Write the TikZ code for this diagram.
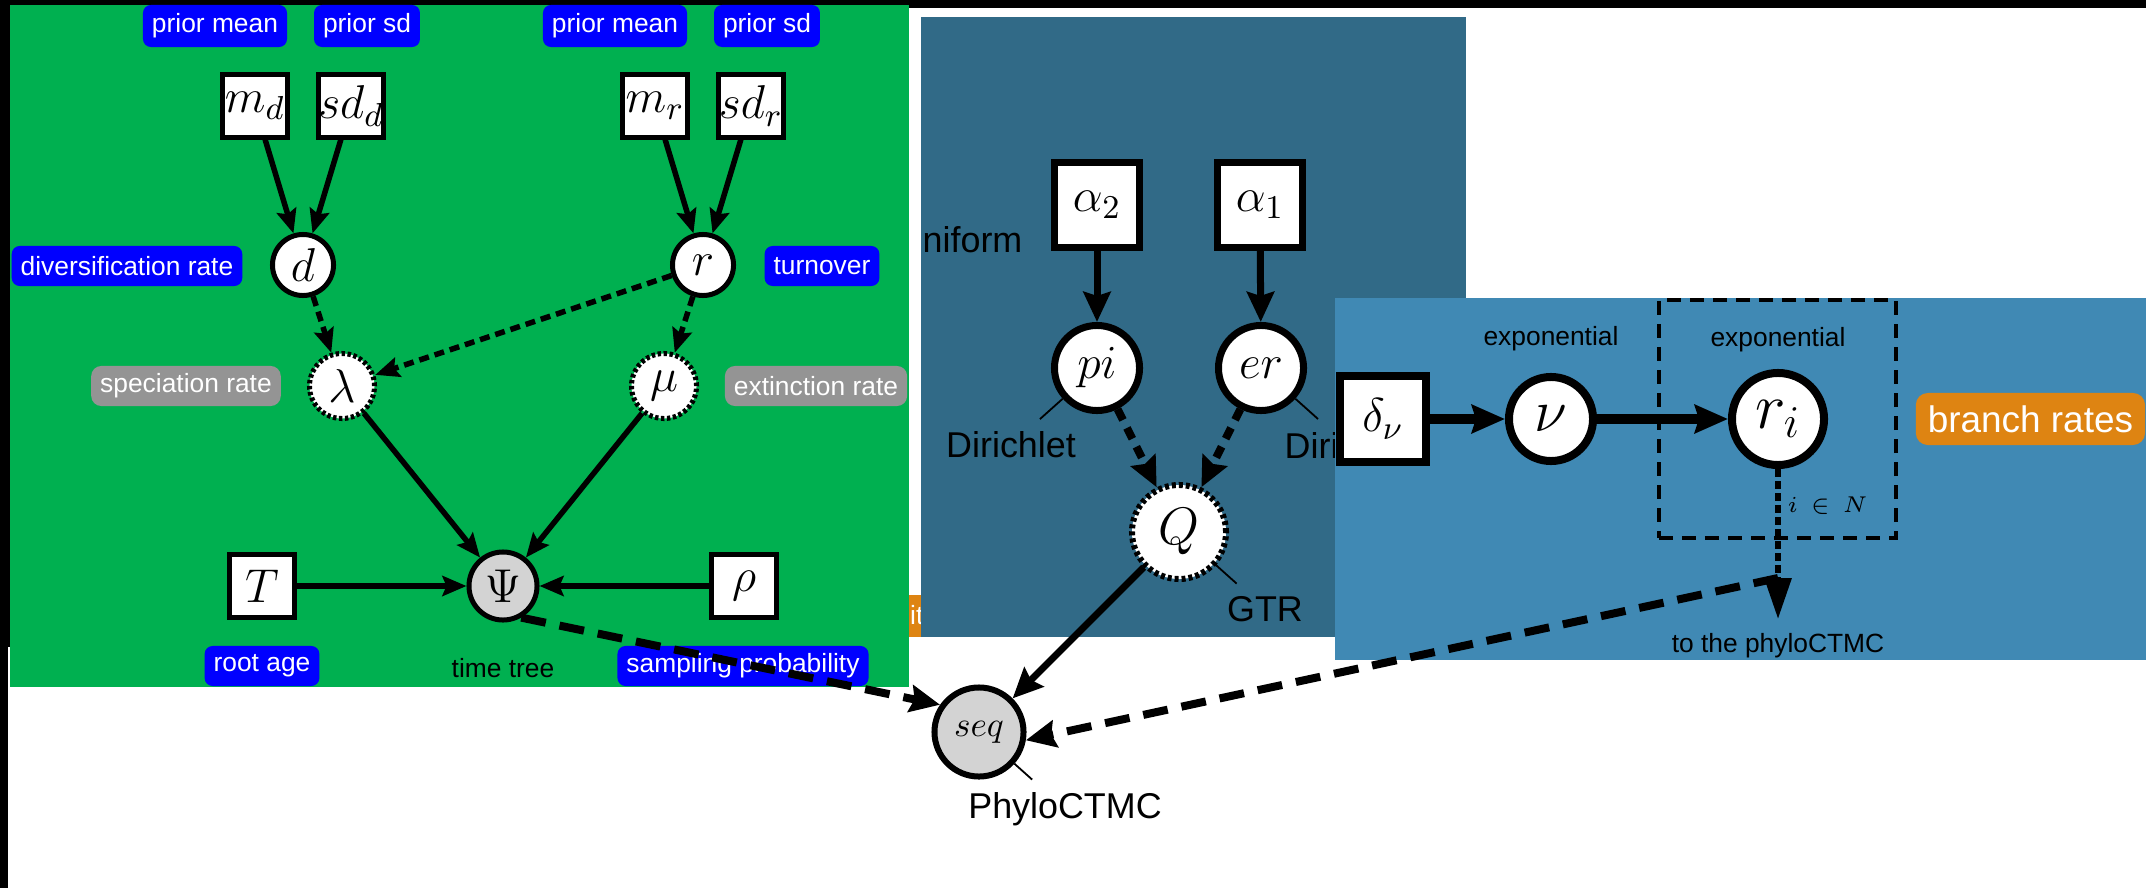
\RequirePackage{fix-cm}
\documentclass[tikz,border=0pt]{standalone}
\usepackage[no-math]{fontspec}
\setmainfont{Liberation Sans}
\usepackage{amsmath, amssymb}
\usetikzlibrary{arrows.meta, positioning, calc}

\definecolor{greenbg}{RGB}{0,176,80}
\definecolor{tealbg}{RGB}{49,106,135}
\definecolor{bluebg}{RGB}{64,137,180}
\definecolor{ratefill}{RGB}{222,132,18}
\definecolor{greyfill}{RGB}{148,148,148}
\definecolor{clampfill}{RGB}{211,211,211}

\begin{document}
\begin{tikzpicture}[
    x=0.01cm, y=-0.01cm,
    smalltxt/.style={font=\fontsize{7.5}{9}\selectfont},
    bigtxt/.style={font=\fontsize{10.2}{12}\selectfont},
    pinlabel/.style={bigtxt, inner sep=0.12cm},
    pinline/.style={line width=0.018cm},
    % green model
    gconst/.style={rectangle, draw, fill=white, line width=0.05cm, minimum width=0.65cm, minimum height=0.62cm, inner sep=0pt, font=\fontsize{13.5}{16}\selectfont},
    gstoch/.style={circle, draw, fill=white, line width=0.05cm, minimum size=0.61cm, inner sep=0pt, font=\fontsize{13.5}{16}\selectfont},
    gdeterm/.style={gstoch, minimum size=0.65cm, dash pattern=on 0.035cm off 0.025cm},
    gclamped/.style={gstoch, fill=clampfill, minimum size=0.68cm},
    bluetag/.style={rounded corners=0.08cm, fill=blue, text=white, smalltxt, minimum height=0.4cm, inner xsep=0.09cm, inner ysep=0pt},
    greytag/.style={bluetag, fill=greyfill, rounded corners=0.1cm},
    garr/.style={-{Stealth[length=0.24cm, width=0.2cm, inset=0.04cm]}, line width=0.055cm},
    gdash/.style={garr, dash pattern=on 0.1cm off 0.06cm},
    % substitution model
    tconst/.style={rectangle, draw, fill=white, line width=0.07cm, minimum size=0.84cm, inner sep=0pt, font=\fontsize{13.5}{16}\selectfont},
    tstoch/.style={circle, draw, fill=white, line width=0.07cm, minimum size=0.85cm, inner sep=0pt, font=\fontsize{13.5}{16}\selectfont},
    tdeterm/.style={tstoch, line width=0.06cm, minimum size=0.94cm, dash pattern=on 0.04cm off 0.03cm, font=\fontsize{15}{17}\selectfont},
    tarr/.style={-{Stealth[length=0.3cm, width=0.27cm, inset=0.04cm]}, line width=0.07cm},
    tdash/.style={tarr, line width=0.08cm, dash pattern=on 0.12cm off 0.09cm},
    % branch rate model
    bconst/.style={rectangle, draw, fill=white, line width=0.08cm, minimum size=0.86cm, inner sep=0pt, font=\fontsize{13.5}{16}\selectfont},
    bstoch/.style={circle, draw, fill=white, line width=0.08cm, minimum size=0.84cm, inner sep=0pt, font=\fontsize{17}{20}\selectfont},
    barr/.style={-{Stealth[length=0.33cm, width=0.28cm, inset=0.04cm]}, line width=0.1cm},
    platebox/.style={rectangle, draw, line width=0.04cm, dash pattern=on 0.14cm off 0.09cm, minimum width=2.37cm, minimum height=2.38cm, inner sep=0pt},
    riarr/.style={-{Triangle[length=0.41cm, width=0.26cm]}, line width=0.06cm, dash pattern=on 0.08cm off 0.04cm},
    % observed sequences
    seqnode/.style={circle, draw, fill=clampfill, line width=0.06cm, minimum size=0.89cm, inner sep=0pt, font=\fontsize{10}{12}\selectfont},
    bigdash/.style={-{Stealth[length=0.3cm, width=0.27cm, inset=0.04cm]}, line width=0.08cm, dash pattern=on 0.25cm off 0.14cm}
]
    \useasboundingbox (0, 0) rectangle (2146, 888);
    \fill[white] (0, 0) rectangle (2146, 888);
    \fill[black] (0, 0) rectangle (2146, 8);
    \fill[black] (0, 0) rectangle (10, 647);
    \fill[black] (0, 647) rectangle (8, 888);

    % time tree panel
    \fill[greenbg] (10, 5) rectangle (909, 687);
    \node[bluetag, minimum height=0.42cm] (pmd) at (215, 26) {prior mean};
    \node[bluetag, minimum height=0.42cm] (psd) at (367, 26) {prior sd};
    \node[bluetag, minimum height=0.42cm] (pmr) at (615, 26) {prior mean};
    \node[bluetag, minimum height=0.42cm] (psr) at (767, 26) {prior sd};
    \node[gconst] (md) at (255, 106) {$m_d$};
    \node[gconst] (sdd) at (351, 106) {$sd_d$};
    \node[gconst] (mr) at (655, 106) {$m_r$};
    \node[gconst] (sdr) at (751, 106) {$sd_r$};
    \node[gstoch] (d) at (303, 265) {$d$};
    \node[gstoch] (r) at (703, 265) {$r$};
    \node[bluetag] (divlab) at (127, 266) {diversification rate};
    \node[bluetag] (turnlab) at (822, 266) {turnover};
    \node[gdeterm] (lam) at (342, 386) {$\lambda$};
    \node[gdeterm] (mu) at (664, 386) {$\mu$};
    \node[greytag] (speclab) at (186, 386) {speciation rate};
    \node[greytag] (extlab) at (816, 386) {extinction rate};
    \node[gclamped] (Psi) at (503, 586) {$\Psi$};
    \node[gconst] (T) at (262, 586) {$T$};
    \node[gconst] (rho) at (744, 586) {$\rho$};
    \node[bluetag] (agelab) at (262, 666) {root age};
    \node[bluetag] (samplab) at (743, 666) {sampling probability};
    \node[smalltxt, below=0.35cm of Psi, inner sep=0pt] (treelab) {time tree};
    \draw[garr] (md) -- (d);
    \draw[garr] (sdd) -- (d);
    \draw[garr] (mr) -- (r);
    \draw[garr] (sdr) -- (r);
    \draw[gdash] (d) -- (lam);
    \draw[gdash] (r) -- (lam);
    \draw[gdash] (r) -- (mu);
    \draw[garr] (lam) -- (Psi);
    \draw[garr] (mu) -- (Psi);
    \draw[garr] (T) -- (Psi);
    \draw[garr] (rho) -- (Psi);

    % tag hidden behind the panels
    \fill[ratefill] (909, 595) rectangle (921, 637);
    \node[smalltxt, text=white, anchor=base west, inner sep=0pt] (hidtag) at (909.5, 624) {it};

    % substitution model panel
    \fill[tealbg] (921, 17) rectangle (1466, 637);
    \node[bigtxt, anchor=base west, inner sep=0pt] (unif) at (922, 252) {niform};
    \node[tconst] (a2) at (1097, 205) {$\alpha_2$};
    \node[tconst] (a1) at (1260, 205) {$\alpha_1$};
    \node[tstoch] (pi) at (1097, 368) {$pi$};
    \node[tstoch] (er) at (1261, 368) {$er$};
    \node[tdeterm] (Q) at (1179, 532) {$Q$};
    \node[pinlabel] (dirpi) at ($(pi)+(-86, 77)$) {Dirichlet};
    \node[bigtxt, anchor=base west, inner sep=0pt] (direr) at (1284, 458) {Diri};
    \coordinate (dirertip) at (1318, 419);
    \node[pinlabel] (gtrlab) at ($(Q)+(86, 77)$) {GTR};
    \draw[pinline] (pi) -- (dirpi);
    \draw[pinline] (er) -- (dirertip);
    \draw[pinline] (Q) -- (gtrlab);
    \draw[tarr] (a2) -- (pi);
    \draw[tarr] (a1) -- (er);
    \draw[tdash] (pi) -- (Q);
    \draw[tdash] (er) -- (Q);

    % branch rate panel
    \fill[bluebg] (1335, 298) rectangle (2146, 660);
    \node[bconst] (dnu) at (1383, 419) {$\delta_\nu$};
    \node[bstoch] (nu) at (1551, 419) {$\nu$};
    \node[bstoch, minimum size=0.92cm, font=\fontsize{18.5}{22}\selectfont] (ri) at (1778, 419) {$r_i$};
    \node[platebox] (rplate) at (1777.5, 419) {};
    \node[font=\fontsize{6.5}{8}\selectfont, anchor=base east, inner sep=0pt] (plateidx) at ($(rplate.south east)+(-30, -28)$) {$i \,\in\, N$};
    \node[smalltxt, above=0.21cm of nu, inner sep=0pt] (nudist) {exponential};
    \node[smalltxt, above=0.16cm of ri, inner sep=0pt] (ridist) {exponential};
    \node[rounded corners=0.12cm, fill=ratefill, text=white, font=\fontsize{10.5}{12}\selectfont, minimum height=0.52cm, inner xsep=0.12cm, right=0.17cm of rplate] (brtag) {branch rates};
    \node[smalltxt, below=1.64cm of ri, inner sep=0pt] (tophylo) {to the phyloCTMC};
    \draw[barr] (dnu) -- (nu);
    \draw[barr] (nu) -- (ri);
    \draw[riarr, shorten >=0.14cm] (ri) -- (tophylo);

    % sequence data
    \node[seqnode] (seq) at (979, 732) {$seq$};
    \node[pinlabel] (ctmclab) at ($(seq)+(86, 77)$) {PhyloCTMC};
    \draw[pinline] (seq) -- (ctmclab);
    \coordinate (rateout) at (1778, 578);
    \draw[bigdash] (Psi.-60) -- (seq.145);
    \draw[tarr] (Q) -- (seq);
    \draw[bigdash] (rateout) -- (seq.-10);
\end{tikzpicture}
\end{document}
